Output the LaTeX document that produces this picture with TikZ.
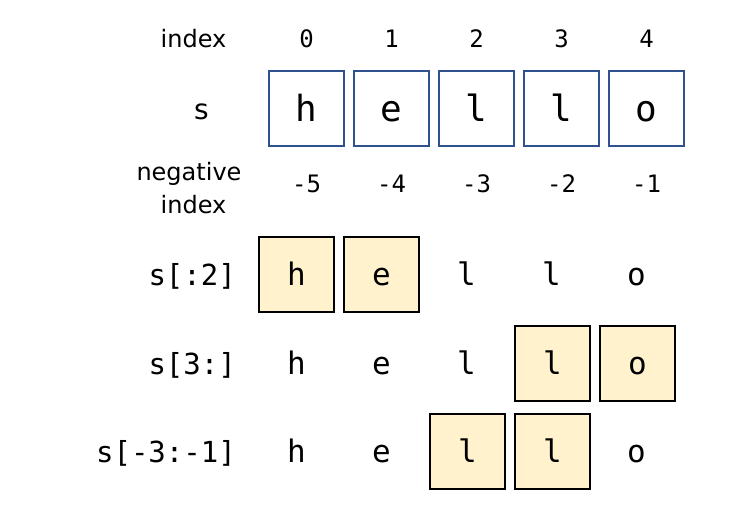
\documentclass[tikz,border=0pt]{standalone}
\usepackage{fontspec}
\setmainfont{DejaVu Sans}
\setmonofont{DejaVu Sans Mono}
\definecolor{cellblue}{HTML}{2F528F}
\definecolor{cellyellow}{HTML}{FFF2CC}
\begin{document}
\begin{tikzpicture}[x=1pt,y=-1pt,
  topcell/.style={draw=cellblue, line width=1.6pt, minimum size=75pt, inner sep=0pt,
     font=\ttfamily\fontsize{36}{38}\selectfont, text height=27pt, text depth=0pt},
  hicell/.style={draw=black, fill=cellyellow, line width=1.3pt, minimum size=75pt, inner sep=0pt,
     font=\ttfamily\fontsize{31}{33}\selectfont, text height=23pt, text depth=0pt},
  plainch/.style={inner sep=0pt,
     font=\ttfamily\fontsize{31}{33}\selectfont, text height=23pt, text depth=0pt},
  idx/.style={inner sep=0pt, font=\ttfamily\fontsize{24}{26}\selectfont, text height=17.5pt, text depth=0pt},
  sanslabel/.style={inner sep=0pt, font=\fontsize{24}{32}\selectfont, anchor=base},
  rowlabel/.style={inner sep=0pt, font=\ttfamily\fontsize{29}{31}\selectfont, anchor=base east}]
\useasboundingbox (0,0) rectangle (750,510);

% index row
\node[sanslabel] (lidx) at (193.5,48) {index};
\foreach \i/\x in {0/306.5,1/391.5,2/476.5,3/561.5,4/646.5}
  \node[idx] (i\i) at (\x,38.8) {\i};

% s row
\node[sanslabel, font=\fontsize{28}{30}\selectfont] (ls) at (201.5,120) {s};
\node[topcell] (c0) at (306.5,108.5) {h};
\node[topcell] (c1) at (391.5,108.5) {e};
\node[topcell] (c2) at (476.5,108.5) {l};
\node[topcell] (c3) at (561.5,108.5) {l};
\node[topcell] (c4) at (646.5,108.5) {o};

% negative index
\node[sanslabel] (lneg1) at (189,181) {negative};
\node[sanslabel] (lneg2) at (193.5,213.3) {index};
\foreach \i/\x in {5/306.5,4/391.5,3/476.5,2/561.5,1/646.5}
  \node[idx] (n\i) at (\x,184) {-\i};

% s[:2]
\node[rowlabel] (r1) at (236,285.5) {s[:2]};
\node[hicell] (a0) at (296.5,274.5) {h};
\node[hicell] (a1) at (381.5,274.5) {e};
\node[plainch] (a2) at (466.5,274.5) {l};
\node[plainch] (a3) at (551.5,274.5) {l};
\node[plainch] (a4) at (636.5,274.5) {o};

% s[3:]
\node[rowlabel] (r2) at (236,374.5) {s[3:]};
\node[plainch] (b0) at (296.5,363.5) {h};
\node[plainch] (b1) at (381.5,363.5) {e};
\node[plainch] (b2) at (466.5,363.5) {l};
\node[hicell] (b3) at (552.5,363.5) {l};
\node[hicell] (b4) at (637.5,363.5) {o};

% s[-3:-1]
\node[rowlabel] (r3) at (236,462.5) {s[-3:-1]};
\node[plainch] (d0) at (296.5,451.5) {h};
\node[plainch] (d1) at (381.5,451.5) {e};
\node[hicell] (d2) at (467.5,451.5) {l};
\node[hicell] (d3) at (552.5,451.5) {l};
\node[plainch] (d4) at (636.5,451.5) {o};
\end{tikzpicture}
\end{document}
